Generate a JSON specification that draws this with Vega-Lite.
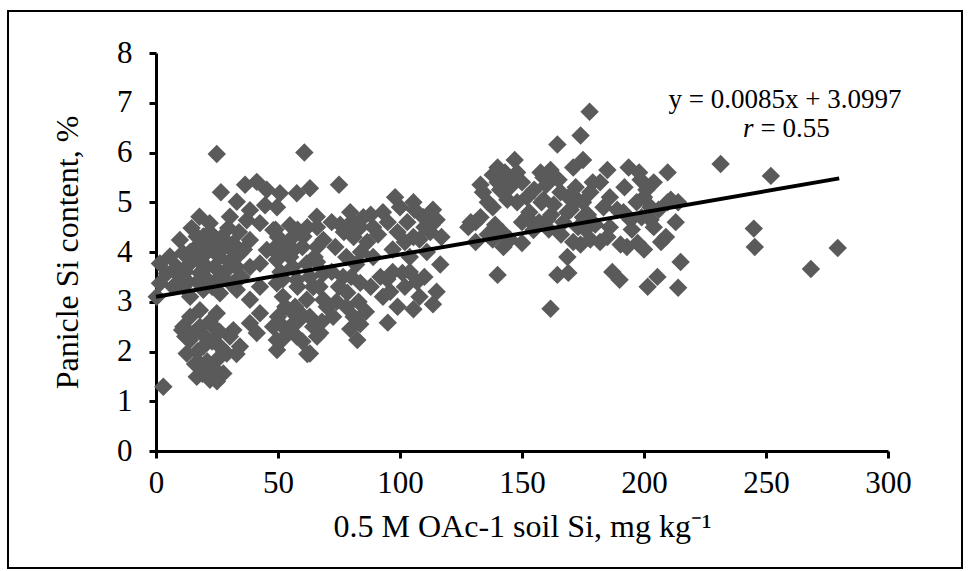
{
  "$schema": "https://vega.github.io/schema/vega-lite/v6.json",
  "width": 954,
  "height": 557,
  "autosize": {"type": "none"},
  "padding": {"left": 8, "top": 11, "right": 8, "bottom": 3},
  "background": "white",
  "config": {
    "view": {"stroke": "black", "strokeWidth": 2},
    "font": "Liberation Serif"
  },
  "datasets": {
    "points": [
      {"soil_si":24.9,"panicle_si":5.97},{"soil_si":60.8,"panicle_si":6.0},{"soil_si":26.6,"panicle_si":5.2},{"soil_si":33.1,"panicle_si":5.01},
      {"soil_si":36.5,"panicle_si":5.35},{"soil_si":41.3,"panicle_si":5.41},{"soil_si":45.4,"panicle_si":5.25},{"soil_si":44.7,"panicle_si":4.94},
      {"soil_si":50.8,"panicle_si":5.18},{"soil_si":57.7,"panicle_si":5.18},{"soil_si":63.1,"panicle_si":5.28},{"soil_si":17.8,"panicle_si":4.71},
      {"soil_si":14.6,"panicle_si":4.48},{"soil_si":19.4,"panicle_si":4.31},{"soil_si":24.9,"panicle_si":4.24},{"soil_si":29.6,"panicle_si":4.48},
      {"soil_si":37.2,"panicle_si":4.64},{"soil_si":42.6,"panicle_si":4.58},{"soil_si":48.1,"panicle_si":4.44},{"soil_si":54.9,"panicle_si":4.54},
      {"soil_si":65.9,"panicle_si":4.71},{"soil_si":68.6,"panicle_si":4.24},{"soil_si":60.4,"panicle_si":4.31},{"soil_si":52.2,"panicle_si":4.17},
      {"soil_si":38.5,"panicle_si":4.24},{"soil_si":45.4,"panicle_si":4.04},{"soil_si":34.4,"panicle_si":3.97},{"soil_si":24.9,"panicle_si":3.97},
      {"soil_si":15.3,"panicle_si":4.04},{"soil_si":9.8,"panicle_si":4.24},{"soil_si":1.6,"panicle_si":3.77},{"soil_si":1.6,"panicle_si":3.37},
      {"soil_si":0.3,"panicle_si":3.1},{"soil_si":8.5,"panicle_si":3.7},{"soil_si":13.9,"panicle_si":3.77},{"soil_si":20.8,"panicle_si":3.7},
      {"soil_si":29,"panicle_si":3.64},{"soil_si":38.5,"panicle_si":3.7},{"soil_si":49.5,"panicle_si":3.84},{"soil_si":56.3,"panicle_si":4.04},
      {"soil_si":61.8,"panicle_si":3.77},{"soil_si":68.6,"panicle_si":3.57},{"soil_si":11.2,"panicle_si":3.3},{"soil_si":19.4,"panicle_si":3.24},
      {"soil_si":26.2,"panicle_si":3.17},{"soil_si":33.1,"panicle_si":3.24},{"soil_si":42.6,"panicle_si":3.3},{"soil_si":49.5,"panicle_si":3.37},
      {"soil_si":57.7,"panicle_si":3.44},{"soil_si":64.5,"panicle_si":3.3},{"soil_si":61.8,"panicle_si":3.04},{"soil_si":68.6,"panicle_si":3.04},
      {"soil_si":56.3,"panicle_si":2.77},{"soil_si":52.2,"panicle_si":2.5},{"soil_si":49.5,"panicle_si":2.23},{"soil_si":57.7,"panicle_si":2.3},
      {"soil_si":63.1,"panicle_si":1.96},{"soil_si":42.6,"panicle_si":2.77},{"soil_si":38.5,"panicle_si":2.57},{"soil_si":31.7,"panicle_si":2.43},
      {"soil_si":34.4,"panicle_si":2.1},{"soil_si":30.3,"panicle_si":2.3},{"soil_si":41.3,"panicle_si":2.37},{"soil_si":18,"panicle_si":2.83},
      {"soil_si":11.2,"panicle_si":2.5},{"soil_si":13.9,"panicle_si":2.23},{"soil_si":18,"panicle_si":2.5},{"soil_si":23.5,"panicle_si":2.5},
      {"soil_si":24.9,"panicle_si":2.77},{"soil_si":12.6,"panicle_si":1.96},{"soil_si":19.4,"panicle_si":2.1},{"soil_si":26.2,"panicle_si":2.1},
      {"soil_si":18,"panicle_si":1.76},{"soil_si":24.9,"panicle_si":1.83},{"soil_si":29,"panicle_si":1.96},{"soil_si":16.7,"panicle_si":1.49},
      {"soil_si":22.1,"panicle_si":1.43},{"soil_si":27.6,"panicle_si":1.56},{"soil_si":20.8,"panicle_si":1.63},{"soil_si":3,"panicle_si":1.29},
      {"soil_si":33,"panicle_si":1.95},{"soil_si":5.7,"panicle_si":3.91},{"soil_si":4.4,"panicle_si":3.57},{"soil_si":11,"panicle_si":3.5},
      {"soil_si":18,"panicle_si":3.58},{"soil_si":11,"panicle_si":3.98},{"soil_si":16.7,"panicle_si":4.31},{"soil_si":22,"panicle_si":4.58},
      {"soil_si":30.3,"panicle_si":4.71},{"soil_si":38.5,"panicle_si":4.84},{"soil_si":31.6,"panicle_si":4.17},{"soil_si":22,"panicle_si":4.17},
      {"soil_si":42.6,"panicle_si":3.77},{"soil_si":33,"panicle_si":3.7},{"soil_si":25,"panicle_si":3.44},{"soil_si":33,"panicle_si":3.44},
      {"soil_si":38.5,"panicle_si":3.04},{"soil_si":52,"panicle_si":3.1},{"soil_si":12,"panicle_si":3.6},{"soil_si":14,"panicle_si":3.1},
      {"soil_si":16,"panicle_si":3.9},{"soil_si":17,"panicle_si":3.4},{"soil_si":19,"panicle_si":3.75},{"soil_si":21,"panicle_si":4.0},
      {"soil_si":21,"panicle_si":3.45},{"soil_si":23,"panicle_si":3.3},{"soil_si":24,"panicle_si":3.7},{"soil_si":26,"panicle_si":3.9},
      {"soil_si":27,"panicle_si":3.5},{"soil_si":28,"panicle_si":4.1},{"soil_si":30,"panicle_si":3.8},{"soil_si":31,"panicle_si":3.35},
      {"soil_si":32,"panicle_si":4.0},{"soil_si":35,"panicle_si":3.5},{"soil_si":36,"panicle_si":4.05},{"soil_si":22,"panicle_si":4.4},
      {"soil_si":27,"panicle_si":4.3},{"soil_si":34,"panicle_si":4.4},{"soil_si":14,"panicle_si":4.0},{"soil_si":18,"panicle_si":4.1},
      {"soil_si":10,"panicle_si":3.5},{"soil_si":7,"panicle_si":3.3},{"soil_si":13,"panicle_si":3.4},{"soil_si":15,"panicle_si":2.35},
      {"soil_si":17,"panicle_si":2.0},{"soil_si":20,"panicle_si":2.3},{"soil_si":21,"panicle_si":1.8},{"soil_si":23,"panicle_si":2.2},
      {"soil_si":26,"panicle_si":2.4},{"soil_si":28,"panicle_si":2.0},{"soil_si":16,"panicle_si":1.75},{"soil_si":19,"panicle_si":1.55},
      {"soil_si":24,"panicle_si":1.65},{"soil_si":22,"panicle_si":2.6},{"soil_si":14,"panicle_si":2.7},{"soil_si":12,"panicle_si":2.3},
      {"soil_si":25,"panicle_si":1.4},{"soil_si":10.7,"panicle_si":2.43},
      {"soil_si":75,"panicle_si":5.35},{"soil_si":49.6,"panicle_si":4.9},{"soil_si":58,"panicle_si":4.45},{"soil_si":49,"panicle_si":4.45},
      {"soil_si":66,"panicle_si":4.5},{"soil_si":75.5,"panicle_si":4.55},{"soil_si":80,"panicle_si":4.6},{"soil_si":88,"panicle_si":4.75},
      {"soil_si":93,"panicle_si":4.8},{"soil_si":98,"panicle_si":5.1},{"soil_si":105.5,"panicle_si":5.0},{"soil_si":115,"panicle_si":4.65},
      {"soil_si":129,"panicle_si":4.6},{"soil_si":73.5,"panicle_si":4.1},{"soil_si":66,"panicle_si":4.1},{"soil_si":55,"panicle_si":4.25},
      {"soil_si":48,"panicle_si":4.05},{"soil_si":55,"panicle_si":3.9},{"soil_si":66,"panicle_si":3.8},{"soil_si":86.6,"panicle_si":4.2},
      {"soil_si":99,"panicle_si":4.4},{"soil_si":105.5,"panicle_si":4.3},{"soil_si":111,"panicle_si":4.0},{"soil_si":116.5,"panicle_si":3.75},
      {"soil_si":107,"panicle_si":3.4},{"soil_si":115,"panicle_si":3.2},{"soil_si":113.5,"panicle_si":2.95},{"soil_si":105.5,"panicle_si":2.85},
      {"soil_si":95,"panicle_si":2.58},{"soil_si":83.7,"panicle_si":2.55},{"soil_si":79.6,"panicle_si":2.45},{"soil_si":62,"panicle_si":1.95},
      {"soil_si":52,"panicle_si":2.25},{"soil_si":59,"panicle_si":2.78},{"soil_si":64.4,"panicle_si":3.3},{"soil_si":52,"panicle_si":3.45},
      {"soil_si":76.7,"panicle_si":3.5},{"soil_si":78.4,"panicle_si":3.18},{"soil_si":83.7,"panicle_si":3.38},{"soil_si":93,"panicle_si":3.1},
      {"soil_si":94.8,"panicle_si":3.45},{"soil_si":101,"panicle_si":3.58},{"soil_si":104,"panicle_si":3.9},{"soil_si":70,"panicle_si":2.9},
      {"soil_si":72.6,"panicle_si":2.7},{"soil_si":64.4,"panicle_si":2.5},{"soil_si":49.6,"panicle_si":2.03},{"soil_si":48,"panicle_si":2.5},
      {"soil_si":55,"panicle_si":2.5},{"soil_si":79.6,"panicle_si":4.8},{"soil_si":83.7,"panicle_si":4.5},{"soil_si":109.6,"panicle_si":4.7},
      {"soil_si":112.4,"panicle_si":4.4},{"soil_si":108,"panicle_si":4.25},{"soil_si":97,"panicle_si":4.05},{"soil_si":82.5,"panicle_si":2.23},
      {"soil_si":67.3,"panicle_si":2.37},{"soil_si":100,"panicle_si":4.9},{"soil_si":103,"panicle_si":4.6},{"soil_si":106,"panicle_si":4.85},
      {"soil_si":110,"panicle_si":4.5},{"soil_si":113,"panicle_si":4.55},{"soil_si":117,"panicle_si":4.3},{"soil_si":102,"panicle_si":4.2},
      {"soil_si":72,"panicle_si":4.6},{"soil_si":77,"panicle_si":4.4},{"soil_si":81,"panicle_si":4.3},{"soil_si":85,"panicle_si":4.7},
      {"soil_si":89,"panicle_si":4.5},{"soil_si":91,"panicle_si":4.35},{"soil_si":72,"panicle_si":3.6},{"soil_si":75,"panicle_si":3.3},
      {"soil_si":78,"panicle_si":2.9},{"soil_si":80,"panicle_si":3.5},{"soil_si":83,"panicle_si":3.0},{"soil_si":86,"panicle_si":2.8},
      {"soil_si":88,"panicle_si":3.3},{"soil_si":74,"panicle_si":3.0},{"soil_si":81,"panicle_si":2.7},{"soil_si":92,"panicle_si":3.5},
      {"soil_si":96,"panicle_si":3.2},{"soil_si":99,"panicle_si":2.9},{"soil_si":102,"panicle_si":3.3},{"soil_si":104,"panicle_si":3.6},
      {"soil_si":108,"panicle_si":3.1},{"soil_si":110,"panicle_si":3.5},{"soil_si":97,"panicle_si":3.6},{"soil_si":50,"panicle_si":4.3},
      {"soil_si":53,"panicle_si":4.0},{"soil_si":56,"panicle_si":3.7},{"soil_si":60,"panicle_si":4.1},{"soil_si":63,"panicle_si":3.5},
      {"soil_si":65,"panicle_si":3.9},{"soil_si":67,"panicle_si":3.3},{"soil_si":51,"panicle_si":3.6},{"soil_si":58,"panicle_si":3.3},
      {"soil_si":62,"panicle_si":4.5},{"soil_si":50,"panicle_si":2.7},{"soil_si":54,"panicle_si":2.4},{"soil_si":57,"panicle_si":2.9},
      {"soil_si":60,"panicle_si":2.2},{"soil_si":63,"panicle_si":2.7},{"soil_si":66,"panicle_si":2.3},{"soil_si":68,"panicle_si":2.6},
      {"soil_si":53,"panicle_si":2.9},{"soil_si":58,"panicle_si":2.6},{"soil_si":78,"panicle_si":3.9},{"soil_si":84,"panicle_si":4.0},
      {"soil_si":89,"panicle_si":3.9},{"soil_si":82,"panicle_si":3.75},{"soil_si":113.5,"panicle_si":4.85},{"soil_si":95,"panicle_si":4.6},
      {"soil_si":177.7,"panicle_si":6.82},{"soil_si":174,"panicle_si":6.34},{"soil_si":164.5,"panicle_si":6.16},{"soil_si":231.4,"panicle_si":5.77},
      {"soil_si":252,"panicle_si":5.53},{"soil_si":245,"panicle_si":4.47},{"soil_si":245.4,"panicle_si":4.1},{"soil_si":279.4,"panicle_si":4.08},
      {"soil_si":268.4,"panicle_si":3.66},{"soil_si":140,"panicle_si":3.54},{"soil_si":161.7,"panicle_si":2.86},{"soil_si":164.5,"panicle_si":3.54},
      {"soil_si":169,"panicle_si":3.58},{"soil_si":168.6,"panicle_si":3.9},{"soil_si":187,"panicle_si":3.6},{"soil_si":190,"panicle_si":3.44},
      {"soil_si":201.5,"panicle_si":3.3},{"soil_si":205.5,"panicle_si":3.5},{"soil_si":215,"panicle_si":3.8},{"soil_si":214,"panicle_si":3.28},
      {"soil_si":193.7,"panicle_si":5.7},{"soil_si":209.7,"panicle_si":5.6},{"soil_si":131,"panicle_si":4.6},{"soil_si":134,"panicle_si":5.2},
      {"soil_si":138,"panicle_si":4.9},{"soil_si":140,"panicle_si":5.7},{"soil_si":147,"panicle_si":5.85},{"soil_si":148,"panicle_si":5.6},
      {"soil_si":157.6,"panicle_si":5.6},{"soil_si":161.7,"panicle_si":5.65},{"soil_si":175,"panicle_si":5.85},{"soil_si":171,"panicle_si":5.7},
      {"soil_si":142.4,"panicle_si":4.1},{"soil_si":138,"panicle_si":4.25},{"soil_si":150,"panicle_si":4.18},{"soil_si":154.7,"panicle_si":4.44},
      {"soil_si":174,"panicle_si":4.15},{"soil_si":178,"panicle_si":4.25},{"soil_si":182,"panicle_si":4.2},{"soil_si":190.4,"panicle_si":4.15},
      {"soil_si":186,"panicle_si":4.5},{"soil_si":197.4,"panicle_si":4.18},{"soil_si":200,"panicle_si":4.05},{"soil_si":207,"panicle_si":4.2},
      {"soil_si":140,"panicle_si":5.4},{"soil_si":158.8,"panicle_si":5.5},{"soil_si":182,"panicle_si":5.4},{"soil_si":198.6,"panicle_si":5.45},
      {"soil_si":200,"panicle_si":5.1},{"soil_si":204,"panicle_si":5.4},{"soil_si":152,"panicle_si":5.1},{"soil_si":158.8,"panicle_si":5.05},
      {"soil_si":165.8,"panicle_si":5.2},{"soil_si":172.7,"panicle_si":5.05},{"soil_si":178,"panicle_si":5.2},{"soil_si":152,"panicle_si":4.7},
      {"soil_si":160.4,"panicle_si":4.65},{"soil_si":168.6,"panicle_si":4.8},{"soil_si":175,"panicle_si":4.7},{"soil_si":194.5,"panicle_si":4.65},
      {"soil_si":202.7,"panicle_si":4.65},{"soil_si":202.7,"panicle_si":4.9},{"soil_si":209.7,"panicle_si":5.0},{"soil_si":191.6,"panicle_si":4.8},
      {"soil_si":183.4,"panicle_si":4.9},{"soil_si":145,"panicle_si":5.3},{"soil_si":148,"panicle_si":5.0},{"soil_si":150,"panicle_si":5.4},
      {"soil_si":153,"panicle_si":4.8},{"soil_si":155,"panicle_si":5.25},{"soil_si":157,"panicle_si":4.6},{"soil_si":158,"panicle_si":5.0},
      {"soil_si":160,"panicle_si":5.35},{"soil_si":162,"panicle_si":4.75},{"soil_si":163,"panicle_si":4.95},{"soil_si":165,"panicle_si":5.45},
      {"soil_si":167,"panicle_si":4.6},{"soil_si":169,"panicle_si":5.1},{"soil_si":170,"panicle_si":4.85},{"soil_si":172,"panicle_si":5.3},
      {"soil_si":173,"panicle_si":4.5},{"soil_si":175,"panicle_si":5.0},{"soil_si":177,"panicle_si":4.75},{"soil_si":179,"panicle_si":5.4},
      {"soil_si":180,"panicle_si":4.55},{"soil_si":155,"panicle_si":4.55},{"soil_si":150,"panicle_si":4.6},{"soil_si":161,"panicle_si":4.45},
      {"soil_si":166,"panicle_si":4.35},{"soil_si":171,"panicle_si":4.2},{"soil_si":176,"panicle_si":4.45},{"soil_si":186,"panicle_si":5.1},
      {"soil_si":189,"panicle_si":4.85},{"soil_si":192,"panicle_si":5.3},{"soil_si":195,"panicle_si":4.45},{"soil_si":197,"panicle_si":5.0},
      {"soil_si":199,"panicle_si":4.7},{"soil_si":201,"panicle_si":5.25},{"soil_si":204,"panicle_si":4.5},{"soil_si":206,"panicle_si":4.85},
      {"soil_si":209,"panicle_si":4.3},{"soil_si":211,"panicle_si":5.05},{"soil_si":213,"panicle_si":4.6},{"soil_si":185,"panicle_si":4.3},
      {"soil_si":193,"panicle_si":4.1},{"soil_si":133,"panicle_si":5.35},{"soil_si":136,"panicle_si":5.0},{"soil_si":138,"panicle_si":5.55},
      {"soil_si":141,"panicle_si":5.25},{"soil_si":143,"panicle_si":5.6},{"soil_si":146,"panicle_si":5.45},{"soil_si":144,"panicle_si":5.05},
      {"soil_si":128,"panicle_si":4.5},{"soil_si":131,"panicle_si":4.2},{"soil_si":133,"panicle_si":4.7},{"soil_si":136,"panicle_si":4.35},
      {"soil_si":139,"panicle_si":4.55},{"soil_si":142,"panicle_si":4.4},{"soil_si":145,"panicle_si":4.25},{"soil_si":214,"panicle_si":5.0},
      {"soil_si":198,"panicle_si":5.6},{"soil_si":185,"panicle_si":5.65}
    ],
    "fit": [
      {"soil_si": 0, "panicle_si": 3.0997},
      {"soil_si": 280, "panicle_si": 5.4797}
    ],
    "equation": [
      {"soil_si": 257.8, "panicle_si": 7.06, "label": "y = 0.0085x + 3.0997"}
    ],
    "r_symbol": [
      {"soil_si": 244.9, "panicle_si": 6.47, "label": "r"}
    ],
    "r_value": [
      {"soil_si": 244.9, "panicle_si": 6.47, "label": "= 0.55"}
    ]
  },
  "layer": [
    {
      "data": {"name": "points"},
      "mark": {"type": "point", "shape": "diamond", "filled": true, "size": 340, "color": "#5a5a5a", "opacity": 1, "strokeWidth": 0},
      "encoding": {
        "x": {
          "field": "soil_si",
          "type": "quantitative",
          "scale": {"domain": [0, 300], "range": [148, 880], "nice": false, "zero": false},
          "axis": {
            "title": "0.5 M OAc-1 soil Si, mg kg⁻¹",
            "values": [0, 50, 100, 150, 200, 250, 300],
            "format": "d",
            "offset": -117,
            "grid": false,
            "domainColor": "black",
            "domainWidth": 3,
            "tickColor": "black",
            "tickWidth": 3,
            "tickSize": 7,
            "labelFont": "Liberation Serif",
            "labelFontSize": 31,
            "labelColor": "black",
            "labelPadding": 10,
            "labelFlush": false,
            "titleFont": "Liberation Serif",
            "titleFontSize": 32,
            "titleFontWeight": "normal",
            "titleColor": "black",
            "titlePadding": 13
          }
        },
        "y": {
          "field": "panicle_si",
          "type": "quantitative",
          "scale": {"domain": [0, 8], "range": [440, 42], "nice": false, "zero": false},
          "axis": {
            "title": "Panicle Si content, %",
            "values": [0, 1, 2, 3, 4, 5, 6, 7, 8],
            "format": "d",
            "offset": -148,
            "grid": false,
            "domainColor": "black",
            "domainWidth": 3,
            "tickColor": "black",
            "tickWidth": 3,
            "tickSize": 7,
            "labelFont": "Liberation Serif",
            "labelFontSize": 31,
            "labelColor": "black",
            "labelPadding": 17,
            "labelFlush": false,
            "titleFont": "Liberation Serif",
            "titleFontSize": 32,
            "titleFontWeight": "normal",
            "titleColor": "black",
            "titlePadding": 32
          }
        }
      }
    },
    {
      "data": {"name": "fit"},
      "mark": {"type": "line", "color": "black", "strokeWidth": 4},
      "encoding": {
        "x": {"field": "soil_si", "type": "quantitative"},
        "y": {"field": "panicle_si", "type": "quantitative"}
      }
    },
    {
      "data": {"name": "equation"},
      "mark": {"type": "text", "font": "Liberation Serif", "fontSize": 27, "align": "center", "baseline": "middle", "color": "black"},
      "encoding": {
        "x": {"field": "soil_si", "type": "quantitative"},
        "y": {"field": "panicle_si", "type": "quantitative"},
        "text": {"field": "label"}
      }
    },
    {
      "data": {"name": "r_symbol"},
      "mark": {"type": "text", "font": "Liberation Serif", "fontSize": 27, "fontStyle": "italic", "align": "right", "baseline": "middle", "color": "black"},
      "encoding": {
        "x": {"field": "soil_si", "type": "quantitative"},
        "y": {"field": "panicle_si", "type": "quantitative"},
        "text": {"field": "label"}
      }
    },
    {
      "data": {"name": "r_value"},
      "mark": {"type": "text", "font": "Liberation Serif", "fontSize": 27, "align": "left", "baseline": "middle", "dx": 7, "color": "black"},
      "encoding": {
        "x": {"field": "soil_si", "type": "quantitative"},
        "y": {"field": "panicle_si", "type": "quantitative"},
        "text": {"field": "label"}
      }
    }
  ]
}
